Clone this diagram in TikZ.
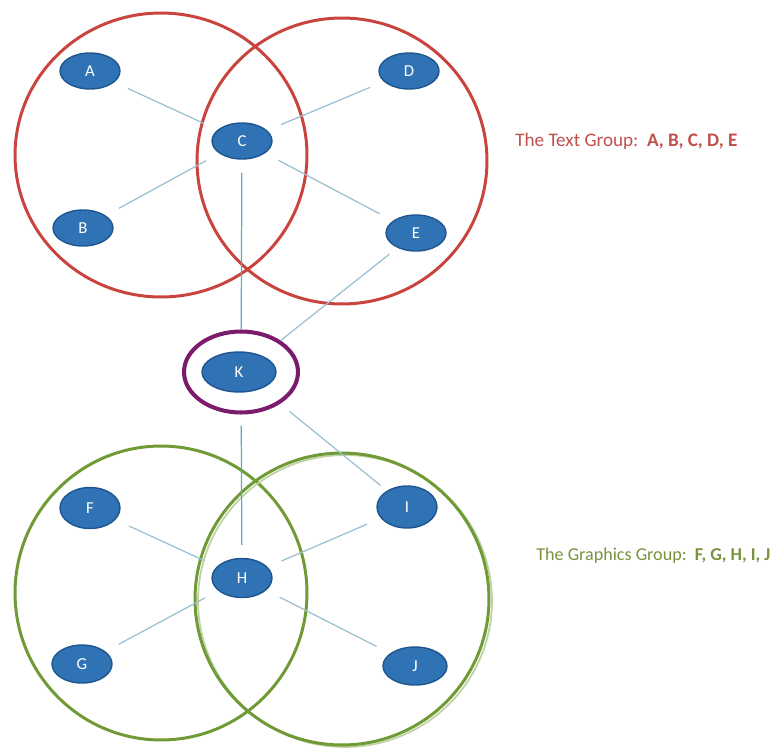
\documentclass[tikz,border=0pt]{standalone}
\usepackage{fontspec}
\setmainfont{Carlito}
\usetikzlibrary{shapes.geometric}

\definecolor{ringred}{HTML}{C9443F}
\definecolor{ringgreen}{HTML}{6F9A35}
\definecolor{ringpurple}{HTML}{7B1B6E}
\definecolor{nodeblue}{HTML}{2F73B5}
\definecolor{nodeedge}{HTML}{1E558F}
\definecolor{linkblue}{HTML}{9BBFD2}
\definecolor{linkteal}{HTML}{4FAFC6}
\definecolor{txtred}{HTML}{C0504D}
\definecolor{txtgreen}{HTML}{77933C}

\begin{document}
\begin{tikzpicture}[x=0.02cm,y=-0.02cm]
\footnotesize

\tikzstyle{member} = [draw=nodeedge, ellipse, line width=0.8pt, fill=nodeblue, text=white, minimum width=1.2cm, minimum height=0.72cm, inner sep=0pt, font=\fontsize{9.5}{10}\selectfont]
\tikzstyle{link}   = [draw=linkblue, line width=0.7pt, shorten <=0.3cm, shorten >=0.3cm]
\tikzstyle{group}  = [line width=1.7pt]
\tikzstyle{lbl}    = [anchor=west, inner sep=0pt]

\useasboundingbox (0,0) rectangle (783,747);

% text group
\draw [group, ringred] (161,155) ellipse (2.92cm and 2.84cm);
\draw [group, ringred] (342,161) ellipse (2.9cm and 2.86cm);

% graphics group
\draw [group, ringgreen] (161,593) ellipse (2.92cm and 2.94cm);
\draw [ringgreen!45, line width=1pt] (345,601) ellipse (2.94cm and 2.92cm);
\draw [group, ringgreen] (342,599) ellipse (2.94cm and 2.92cm);

\node [member] (A) at (90,71)  {A};
\node [member] (D) at (409,71) {D};
\node [member] (C) at (242,141) {C};
\node [member] (B) at (83,228) {B};
\node [member] (E) at (416,233) {E};

\node [member, minimum width=1.48cm, minimum height=0.8cm] (K) at (239,372) {K};
\node [draw=ringpurple, line width=2.3pt, ellipse, minimum width=2.28cm, minimum height=1.62cm] (Kring) at (241,372) {};

\node [member, minimum height=0.82cm] (F) at (90,508)  {F};
\node [member, minimum height=0.84cm] (I) at (407,507) {I};
\node [member, minimum height=0.78cm] (H) at (242,578) {H};
\node [member, minimum height=0.76cm] (G) at (82,664)  {G};
\node [member, minimum width=1.28cm, minimum height=0.76cm] (J) at (415,666) {J};

\draw [link] (A) -- (C);
\draw [link] (C) -- (D);
\draw [link] (C) -- (B);
\draw [link] (C) -- (E);
\draw [link, linkteal, shorten <=0.26cm, shorten >=0pt] (C) -- (Kring);
\draw [link, shorten <=0.2cm, shorten >=0pt] (E) -- (Kring);

\draw [link, linkteal, shorten <=0.22cm, shorten >=0.26cm] (Kring) -- (H);
\draw [link, shorten <=0.24cm, shorten >=0.16cm] (Kring) -- (I);
\draw [link] (F) -- (H);
\draw [link] (H) -- (I);
\draw [link] (H) -- (G);
\draw [link] (H) -- (J);

\node [lbl, text=txtred, font=\fontsize{10.9}{12}\selectfont] (TextGrp) at (515,141) {The Text Group:\ \ \textbf{A, B, C, D, E}};
\node [lbl, text=txtgreen, font=\fontsize{10.3}{12}\selectfont] (GraphGrp) at (536,556) {The Graphics Group:\ \ \textbf{F, G, H, I, J}};
\end{tikzpicture}
\end{document}
